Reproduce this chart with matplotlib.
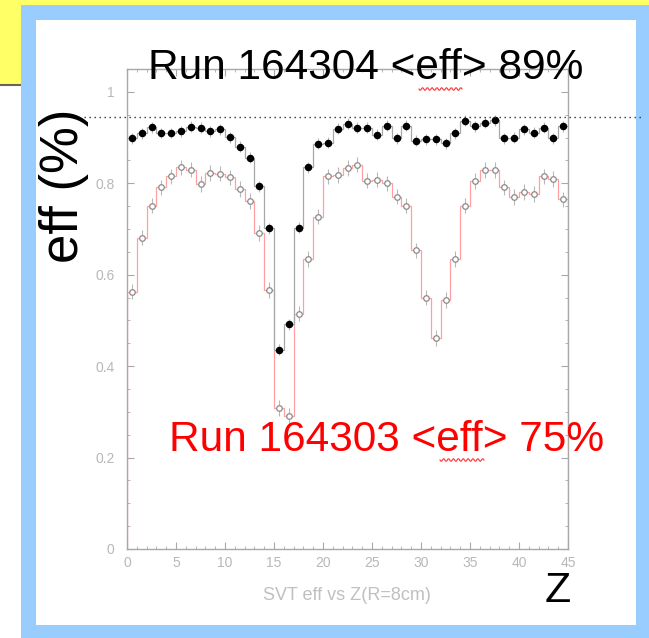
import numpy as np
import matplotlib
matplotlib.use('Agg')
import matplotlib.pyplot as plt
from matplotlib.patches import Rectangle
from matplotlib.lines import Line2D
from matplotlib.ticker import MultipleLocator, FixedLocator, FixedFormatter

# ---------------- data ----------------
z_edges = list(range(0, 46))          # 45 bins of width 1 in Z
eff_164304 = [0.898, 0.909, 0.923, 0.910, 0.910, 0.914, 0.924, 0.921, 0.914, 0.918,
              0.901, 0.880, 0.856, 0.793, 0.702, 0.436, 0.492, 0.703, 0.835, 0.886,
              0.889, 0.919, 0.930, 0.921, 0.922, 0.906, 0.926, 0.899, 0.926, 0.893,
              0.896, 0.896, 0.888, 0.909, 0.937, 0.925, 0.932, 0.938, 0.899, 0.900,
              0.918, 0.911, 0.921, 0.899, 0.925]
eff_164303 = [0.563, 0.681, 0.751, 0.791, 0.815, 0.835, 0.830, 0.799, 0.823, 0.821,
              0.813, 0.788, 0.761, 0.691, 0.567, 0.309, 0.291, 0.515, 0.634, 0.727,
              0.815, 0.818, 0.833, 0.841, 0.806, 0.808, 0.800, 0.771, 0.751, 0.653,
              0.550, 0.461, 0.545, 0.634, 0.751, 0.805, 0.829, 0.829, 0.791, 0.770,
              0.781, 0.777, 0.815, 0.809, 0.765]
err_164304 = 0.012
err_164303 = 0.017
ref_level = 0.945
y_ticks = [0, 0.2, 0.4, 0.6, 0.8, 1.0]
y_ticklabels = ['0', '0.2', '0.4', '0.6', '0.8', '1']
x_ticks = [0, 5, 10, 15, 20, 25, 30, 35, 40, 45]
x_ticklabels = ['0', '5', '10', '15', '20', '25', '30', '35', '40', '45']
title_top = 'Run 164304 <eff> 89%'
title_red = 'Run 164303 <eff> 75%'
hist_title = 'SVT eff vs Z(R=8cm)'

# ---------------- figure ----------------
W, H = 649, 638
fig = plt.figure(figsize=(W / 100, H / 100), dpi=100)
fig.patch.set_facecolor('white')
FONT = ['Liberation Sans', 'DejaVu Sans']


def fx(px):
    return px / W


def fy(py):
    return 1 - py / H


def frect(x0, y0, x1, y1, color, z):
    fig.patches.append(Rectangle((fx(x0), fy(y1)), fx(x1) - fx(x0), fy(y0) - fy(y1),
                                 transform=fig.transFigure, fc=color, ec='none', zorder=z))


frect(0, 0, W, 85, '#ffff66', -5)
fig.lines.append(Line2D([fx(0), fx(22)], [fy(85), fy(85)], transform=fig.transFigure,
                        color='#666655', lw=1.5, zorder=-4))
frect(21, 5, W, H, '#99ccff', -3)
frect(36, 20, 636, 625, 'white', -2)

ax = fig.add_axes([fx(127), fy(549), fx(568) - fx(127), fy(69) - fy(549)])
ax.set_facecolor('none')
ax.set_xlim(0, 45)
ax.set_ylim(0, 1.05)

edges = np.array(z_edges, dtype=float)
centers = 0.5 * (edges[:-1] + edges[1:])

ax.stairs(eff_164303, edges, color='#ffa0a0', lw=0.9, baseline=0, zorder=2)
ax.stairs(eff_164304, edges, color='#a8a8a8', lw=0.9, baseline=None, zorder=2)
ax.errorbar(centers, eff_164303, yerr=err_164303, fmt='o', ms=4.0, mfc='white',
            mec='#8a8a8a', mew=0.9, ecolor='#b8b8b8', elinewidth=0.8, capsize=0, zorder=3)
ax.errorbar(centers, eff_164304, yerr=err_164304, fmt='o', ms=4.4, mfc='black',
            mec='black', ecolor='#b8b8b8', elinewidth=0.8, capsize=0, zorder=4)

for s in ax.spines.values():
    s.set_color('#a8a8a8')
    s.set_linewidth(1.0)

ax.yaxis.set_major_locator(FixedLocator(y_ticks))
ax.yaxis.set_major_formatter(FixedFormatter(y_ticklabels))
ax.yaxis.set_minor_locator(MultipleLocator(0.05))
ax.xaxis.set_major_locator(FixedLocator(x_ticks))
ax.xaxis.set_major_formatter(FixedFormatter(x_ticklabels))
ax.xaxis.set_minor_locator(MultipleLocator(1))
ax.tick_params(which='both', direction='in', top=True, right=True, color='#a8a8a8',
               labelcolor='#b8b8b8', labelsize=10)
ax.tick_params(which='major', length=5, width=0.8)
ax.tick_params(which='minor', length=2.5, width=0.6)
ax.tick_params(axis='y', pad=9)
ax.tick_params(axis='x', pad=5)
for lab in ax.get_xticklabels() + ax.get_yticklabels():
    lab.set_family(FONT)

# dotted reference line, extends beyond axes
yref = fy(549) + (fy(69) - fy(549)) * ref_level / 1.05
fig.lines.append(Line2D([fx(84), fx(641)], [yref, yref], transform=fig.transFigure,
                        color='#333333', lw=1.0, ls=(0, (1, 2.6)), zorder=5))

# texts
fig.text(fx(366), fy(68), title_top, ha='center', va='center', fontsize=30.5,
         family=FONT, color='black')
fig.text(fx(387), fy(440), title_red, ha='center', va='center', fontsize=30.5,
         family=FONT, color='#ff0000')
fig.text(fx(64), fy(186), 'eff (%)', ha='center', va='center', rotation=90,
         fontsize=38, family=FONT, color='black')
fig.text(fx(558), fy(591), 'Z', ha='center', va='center', fontsize=31,
         family=FONT, color='black')
fig.text(fx(347), fy(596), hist_title, ha='center', va='center', fontsize=13,
         family=FONT, color='#c0c0c0')


def squiggle(x0, x1, y):
    xs = np.linspace(x0, x1, 60)
    ys = y + 1.3 * np.sin((xs - x0) / (x1 - x0) * 2 * np.pi * 9)
    fig.lines.append(Line2D(fx(xs), fy(ys), transform=fig.transFigure,
                            color='#ff3030', lw=0.8, zorder=6))


squiggle(419, 462, 89)
squiggle(440, 484, 460)

fig.savefig('out.png', dpi=100, facecolor=fig.get_facecolor())
